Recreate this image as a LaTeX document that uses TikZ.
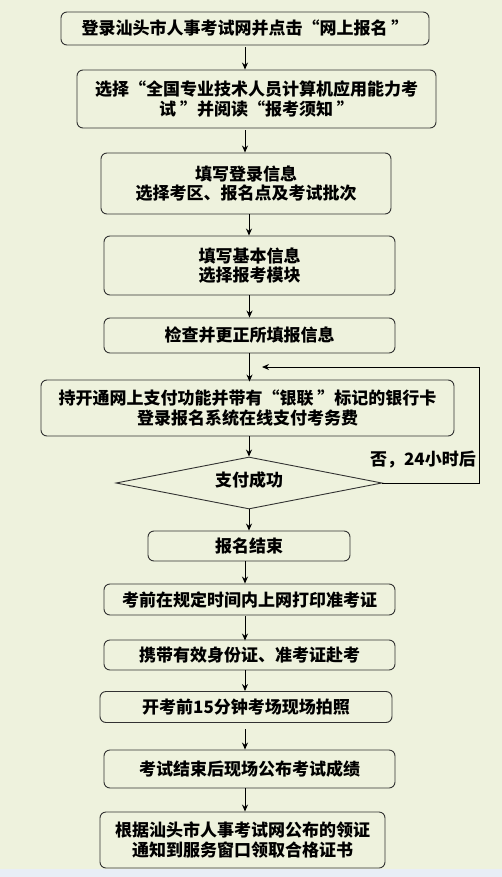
\documentclass[tikz,border=0pt]{standalone}
\usepackage{fontspec}
\setmainfont{Noto Sans CJK SC}
\usetikzlibrary{shapes.geometric,arrows.meta}
\definecolor{bgc}{RGB}{238,242,221}
\definecolor{stripc}{RGB}{232,238,246}
\definecolor{edgec}{RGB}{50,50,50}
\tikzset{
  stepbox/.style={draw=edgec,line width=0.9pt,rounded corners=6pt,fill=bgc,align=center,
    inner sep=0pt,font=\fontsize{17}{19.5}\selectfont\bfseries},
  decbox/.style={draw=edgec,line width=0.9pt,diamond,aspect=5.1,fill=bgc,inner sep=0pt,
    font=\fontsize{17}{19.5}\selectfont\bfseries},
  arr/.style={line width=1pt,-{Stealth[length=7pt,width=6pt]}},
  lbl/.style={font=\fontsize{17}{19.5}\selectfont\bfseries,inner sep=0pt}
}
\begin{document}
\begin{tikzpicture}[x=1pt,y=-1pt]
\path[use as bounding box] (0,0) rectangle (502,877);
\fill[bgc] (0,0) rectangle (502,869);
\fill[stripc] (0,869) rectangle (502,877);

\node[stepbox,minimum width=368pt,minimum height=33pt] (b1) at (245,28.5) {登录汕头市人事考试网并点击“网上报名 ”};
\node[stepbox,minimum width=359pt,minimum height=58pt] (b2) at (256.5,99) {选择“全国专业技术人员计算机应用能力考\\试 ”并阅读“报考须知 ”};
\node[stepbox,minimum width=290pt,minimum height=61pt] (b3) at (246,183.5) {填写登录信息\\选择考区、报名点及考试批次};
\node[stepbox,minimum width=291pt,minimum height=59pt] (b4) at (249.5,265.5) {填写基本信息\\选择报考模块};
\node[stepbox,minimum width=291pt,minimum height=35pt] (b5) at (249.5,335.5) {检查并更正所填报信息};
\node[stepbox,minimum width=413pt,minimum height=56pt] (b6) at (247.5,408) {持开通网上支付功能并带有“银联 ”标记的银行卡\\登录报名系统在线支付考务费};
\node[decbox,minimum width=266pt,minimum height=52pt] (d) at (249,483) {};
\node[lbl] (dt) at (249,480) {支付成功};
\node[stepbox,minimum width=202pt,minimum height=30pt] (b7) at (249,546) {报名结束};
\node[stepbox,minimum width=291pt,minimum height=31pt] (b8) at (249.5,599.5) {考前在规定时间内上网打印准考证};
\node[stepbox,minimum width=291pt,minimum height=30pt] (b9) at (249.5,655) {携带有效身份证、准考证赴考};
\node[stepbox,minimum width=292pt,minimum height=31pt] (b10) at (246,707) {开考前15分钟考场现场拍照};
\node[stepbox,minimum width=291pt,minimum height=38pt] (b11) at (249.5,769) {考试结束后现场公布考试成绩};
\node[stepbox,minimum width=285pt,minimum height=56pt] (b12) at (242.5,840) {根据汕头市人事考试网公布的领证\\通知到服务窗口领取合格证书};

\node[lbl,anchor=east] (no) at (476,460) {否，24小时后};
\coordinate (loopend) at (262,367);
\coordinate (loopcorner) at (479,483);

\draw[arr] ([yshift=-2pt]b1.south) -- (b1.south |- b2.north);
\draw[arr] ([xshift=-11.5pt,yshift=-2pt]b2.south) -- ([xshift=-11.5pt]b2.south |- b3.north);
\draw[arr] ([xshift=3pt]b3.south) -- ([xshift=3pt]b3.south |- b4.north);
\draw[arr] (b4.south) -- (b5.north);
\draw[arr] (b5.south) -- ([yshift=-2pt]b5.south |- b6.north);
\draw[arr] ([xshift=1.5pt]b6.south) -- (d.north);
\draw[arr] (d.south) -- (d.south |- b7.north);
\draw[arr] ([xshift=-4pt]b7.south) -- ([xshift=-4pt]b7.south |- b8.north);
\draw[arr] ([xshift=-4.5pt,yshift=-1pt]b8.south) -- ([xshift=-4.5pt,yshift=-1pt]b8.south |- b9.north);
\draw[arr] ([xshift=-4.5pt]b9.south) -- ([xshift=-4.5pt]b9.south |- b10.north);
\draw[arr] ([xshift=-1pt,yshift=-6pt]b10.south) -- ([xshift=-1pt]b10.south |- b11.north);
\draw[arr] ([xshift=-4.5pt]b11.south) -- ([xshift=-4.5pt]b11.south |- b12.north);
\draw[arr] (d.east) -- (loopcorner) |- (loopend);
\end{tikzpicture}
\end{document}
